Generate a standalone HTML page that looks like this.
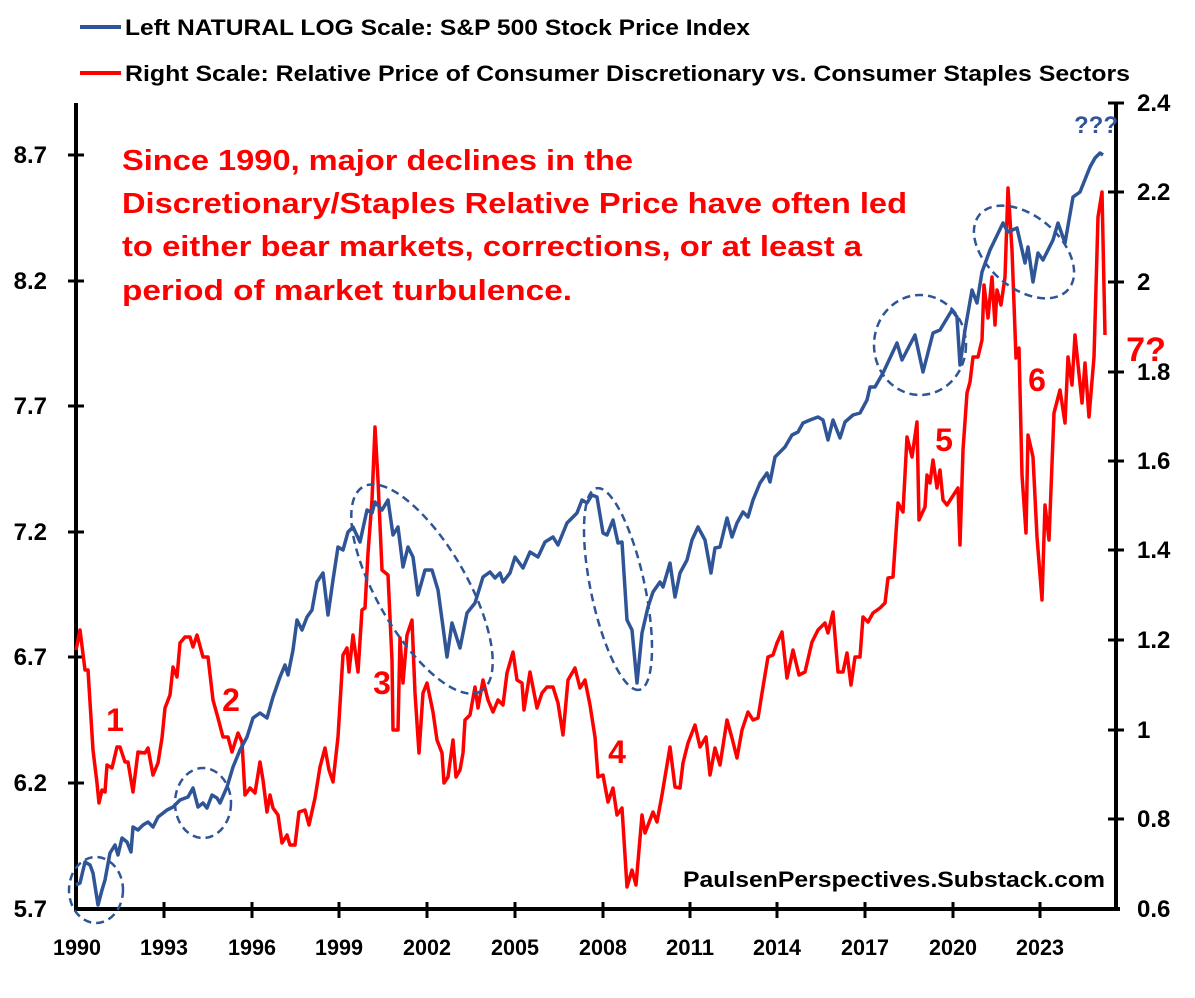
<!DOCTYPE html>
<html><head><meta charset="utf-8"><style>
html,body{margin:0;padding:0;background:#fff;}
svg{display:block;font-family:"Liberation Sans",sans-serif;font-weight:bold;}
</style></head><body>
<svg width="1195" height="998" viewBox="0 0 1195 998" xmlns="http://www.w3.org/2000/svg">
<rect width="1195" height="998" fill="#fff"/>
<line x1="80" y1="27" x2="121" y2="27" stroke="#2f5597" stroke-width="4"/>
<text x="125" y="35" font-size="22" textLength="625" lengthAdjust="spacingAndGlyphs">Left NATURAL LOG Scale: S&amp;P 500 Stock Price Index</text>
<line x1="80" y1="73" x2="121" y2="73" stroke="#ff0000" stroke-width="4"/>
<text x="125" y="81" font-size="22" textLength="1005" lengthAdjust="spacingAndGlyphs">Right Scale: Relative Price of Consumer Discretionary vs. Consumer Staples Sectors</text>

<g stroke="#000" stroke-width="4">
<line x1="76" y1="103" x2="76" y2="910"/>
<line x1="1116" y1="103" x2="1116" y2="910"/>
<line x1="74" y1="909" x2="1120" y2="909"/>
</g>
<g stroke="#000" stroke-width="3">
<line x1="68" y1="155" x2="84" y2="155"/><line x1="68" y1="281" x2="84" y2="281"/><line x1="68" y1="406" x2="84" y2="406"/><line x1="68" y1="532" x2="84" y2="532"/><line x1="68" y1="657" x2="84" y2="657"/><line x1="68" y1="783" x2="84" y2="783"/>
<line x1="1108" y1="103" x2="1124" y2="103"/><line x1="1108" y1="192" x2="1124" y2="192"/><line x1="1108" y1="282" x2="1124" y2="282"/><line x1="1108" y1="372" x2="1124" y2="372"/><line x1="1108" y1="461" x2="1124" y2="461"/><line x1="1108" y1="550" x2="1124" y2="550"/><line x1="1108" y1="640" x2="1124" y2="640"/><line x1="1108" y1="730" x2="1124" y2="730"/><line x1="1108" y1="819" x2="1124" y2="819"/>
<line x1="164" y1="902" x2="164" y2="918"/><line x1="252" y1="902" x2="252" y2="918"/><line x1="339" y1="902" x2="339" y2="918"/><line x1="427" y1="902" x2="427" y2="918"/><line x1="515" y1="902" x2="515" y2="918"/><line x1="603" y1="902" x2="603" y2="918"/><line x1="690" y1="902" x2="690" y2="918"/><line x1="777" y1="902" x2="777" y2="918"/><line x1="865" y1="902" x2="865" y2="918"/><line x1="953" y1="902" x2="953" y2="918"/><line x1="1040" y1="902" x2="1040" y2="918"/>
</g>
<g font-size="24" text-anchor="end">
<text x="47" y="163">8.7</text><text x="47" y="289">8.2</text><text x="47" y="414">7.7</text><text x="47" y="540">7.2</text><text x="47" y="665">6.7</text><text x="47" y="791">6.2</text><text x="47" y="917">5.7</text>
</g>
<g font-size="24">
<text x="1137" y="111">2.4</text><text x="1137" y="200">2.2</text><text x="1137" y="290">2</text><text x="1137" y="380">1.8</text><text x="1137" y="469">1.6</text><text x="1137" y="558">1.4</text><text x="1137" y="648">1.2</text><text x="1137" y="738">1</text><text x="1137" y="827">0.8</text><text x="1137" y="917">0.6</text>
</g>
<g font-size="22" text-anchor="middle">
<text x="77" y="955" textLength="48" lengthAdjust="spacingAndGlyphs">1990</text><text x="164" y="955" textLength="48" lengthAdjust="spacingAndGlyphs">1993</text><text x="252" y="955" textLength="48" lengthAdjust="spacingAndGlyphs">1996</text><text x="339" y="955" textLength="48" lengthAdjust="spacingAndGlyphs">1999</text><text x="427" y="955" textLength="48" lengthAdjust="spacingAndGlyphs">2002</text><text x="515" y="955" textLength="48" lengthAdjust="spacingAndGlyphs">2005</text><text x="603" y="955" textLength="48" lengthAdjust="spacingAndGlyphs">2008</text><text x="690" y="955" textLength="48" lengthAdjust="spacingAndGlyphs">2011</text><text x="777" y="955" textLength="48" lengthAdjust="spacingAndGlyphs">2014</text><text x="865" y="955" textLength="48" lengthAdjust="spacingAndGlyphs">2017</text><text x="953" y="955" textLength="48" lengthAdjust="spacingAndGlyphs">2020</text><text x="1040" y="955" textLength="48" lengthAdjust="spacingAndGlyphs">2023</text>
</g>

<polyline fill="none" stroke="#ff0000" stroke-width="3.5" stroke-linejoin="round" points="76,650 80,630 85,670 88,670 93,750 97,783 99,803 102,790 105,792 107,765 112,768 117,747 120,747 125,762 128,762 133,792 138,752 145,753 148,748 153,775 158,763 162,738 165,708 170,695 173,667 177,677 180,643 185,637 190,637 193,647 197,635 203,657 208,657 213,700 218,718 223,737 228,737 232,752 238,733 242,742 245,795 250,788 255,793 260,762 263,780 267,812 270,795 273,808 278,815 282,843 287,835 290,845 295,845 299,812 305,810 309,825 315,798 320,767 325,748 329,770 333,782 338,737 343,655 347,648 349,672 353,635 358,672 362,610 365,608 368,553 372,500 375,427 378,480 382,570 388,575 392,660 393,730 398,730 400,638 403,683 407,635 412,620 415,693 419,753 423,693 427,683 433,712 437,740 442,753 444,783 448,777 453,740 456,777 460,770 463,753 465,720 470,715 475,687 478,708 483,680 488,700 493,712 498,700 503,705 507,673 513,652 517,680 522,683 524,710 530,672 537,708 542,693 547,687 553,687 558,703 563,735 568,680 575,668 580,688 585,680 590,705 595,737 598,777 603,775 608,802 613,788 617,815 622,808 627,887 632,870 636,885 642,815 645,833 653,812 657,822 662,795 670,747 675,787 680,788 683,763 688,743 695,725 700,747 706,737 710,775 715,748 720,765 727,720 732,738 737,758 742,730 748,712 753,720 758,718 763,687 768,657 773,655 777,643 782,632 787,678 793,650 799,675 805,672 812,642 818,630 825,623 828,633 833,612 838,672 843,672 847,653 851,685 855,657 860,657 863,617 868,622 873,613 880,608 885,603 888,578 893,577 898,503 903,512 907,437 912,457 917,422 919,520 925,507 927,475 930,483 933,460 937,488 940,470 943,500 947,505 958,488 960,545 963,450 967,393 970,382 973,357 978,357 982,340 984,285 988,318 992,277 995,325 997,290 1001,305 1005,277 1008,188 1012,250 1016,358 1019,348 1022,475 1026,533 1028,435 1033,457 1037,537 1042,600 1045,505 1049,540 1054,413 1060,390 1065,423 1068,357 1072,385 1075,335 1082,403 1085,363 1089,417 1094,357 1098,217 1102,192 1105,335"/>

<polyline fill="none" stroke="#2f5597" stroke-width="3.5" stroke-linejoin="round" points="76,885 80,883 85,862 90,865 93,873 98,905 102,890 105,880 110,853 115,845 118,855 122,838 127,842 131,852 133,827 138,830 143,825 148,822 153,827 158,817 167,810 173,807 180,800 188,797 193,788 198,807 203,803 207,808 212,795 217,798 220,803 227,787 233,767 240,750 247,737 253,718 260,713 267,718 273,697 280,677 285,665 288,675 293,650 297,620 302,630 307,617 312,610 317,582 323,573 328,615 333,580 338,547 343,550 348,532 353,527 360,542 367,510 372,513 375,502 382,510 388,500 393,535 398,527 403,567 408,547 413,557 418,595 425,570 432,570 438,590 443,627 447,657 452,623 460,648 467,613 475,603 483,577 490,572 495,578 500,573 503,582 510,573 515,557 523,568 530,552 538,557 545,542 553,537 558,545 567,523 577,513 582,500 587,503 592,495 597,497 603,533 607,535 613,520 618,543 622,542 627,620 632,630 637,683 642,633 648,607 653,592 660,582 663,587 670,563 675,597 680,573 687,560 692,540 698,527 705,540 711,573 715,548 720,547 727,518 732,537 737,523 743,512 748,517 753,500 760,483 767,473 770,482 775,457 780,452 785,447 792,435 798,432 803,423 810,420 818,417 823,420 828,440 833,420 840,438 845,422 853,415 860,413 867,400 870,387 875,387 883,373 897,343 902,360 915,335 923,372 933,333 940,330 952,310 957,317 960,365 965,330 972,290 977,303 982,272 990,250 1003,223 1008,232 1017,228 1025,263 1028,247 1033,282 1038,253 1043,260 1053,240 1058,223 1065,243 1073,197 1080,192 1090,167 1095,158 1100,153 1103,155"/>

<g fill="none" stroke="#2f5597" stroke-width="2.5" stroke-dasharray="8,5">
<ellipse cx="96" cy="890" rx="27" ry="33"/>
<ellipse cx="203" cy="803" rx="28" ry="35"/>
<ellipse cx="422" cy="589" rx="118" ry="45" transform="rotate(60 422 589)"/>
<ellipse cx="618" cy="589" rx="103" ry="27" transform="rotate(78 618 589)"/>
<ellipse cx="920" cy="345" rx="46" ry="50"/>
<ellipse cx="1024" cy="252" rx="58" ry="36" transform="rotate(40 1024 252)"/>
</g>

<g fill="#ff0000" font-size="29">
<text x="122" y="170" textLength="511" lengthAdjust="spacingAndGlyphs">Since 1990, major declines in the</text>
<text x="122" y="213" textLength="785" lengthAdjust="spacingAndGlyphs">Discretionary/Staples Relative Price have often led</text>
<text x="122" y="256" textLength="740" lengthAdjust="spacingAndGlyphs">to either bear markets, corrections, or at least a</text>
<text x="122" y="300" textLength="450" lengthAdjust="spacingAndGlyphs">period of market turbulence.</text>
</g>
<g fill="#ff0000" font-size="32" text-anchor="middle">
<text x="115" y="731">1</text><text x="231" y="711">2</text><text x="382" y="694">3</text><text x="617" y="763">4</text><text x="944" y="451">5</text><text x="1037" y="391">6</text>
<text x="1146" y="361" font-size="34">7?</text>
</g>
<text x="1096" y="133" fill="#2f5597" font-size="24" text-anchor="middle">???</text>
<text x="683" y="887" font-size="22" textLength="422" lengthAdjust="spacingAndGlyphs">PaulsenPerspectives.Substack.com</text>
</svg>
</body></html>
